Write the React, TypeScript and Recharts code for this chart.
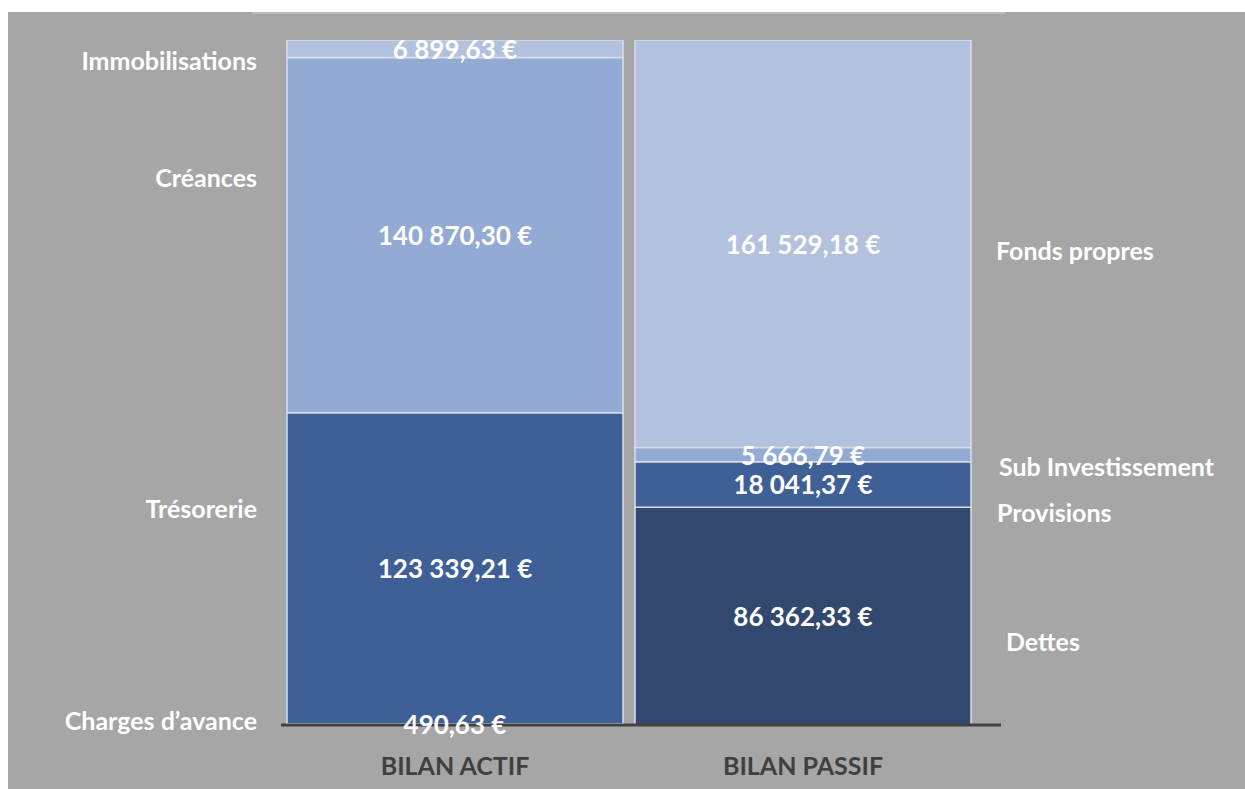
import React from 'react';
import { BarChart, Bar, XAxis, YAxis, LabelList } from 'recharts';

const categories = ['BILAN ACTIF', 'BILAN PASSIF'];
const actifNames = ['Charges d’avance', 'Trésorerie', 'Créances', 'Immobilisations'];
const actifValues = [490.63, 123339.21, 140870.3, 6899.63];
const passifNames = ['Dettes', 'Provisions', 'Sub Investissement', 'Fonds propres'];
const passifValues = [86362.33, 18041.37, 5666.79, 161529.18];
const yMax = 271600;

// styles / placement (not data)
const actifColors = ['#3f6097', '#3f6097', '#93aad5', '#b2c1de'];
const passifColors = ['#33486e', '#3f6097', '#93aad5', '#b2c1de'];
const actifNameDy = [-4, -60, -58, 11];
const passifNameDy = [25, 28, 11, 6];
const passifNameDx = [35, 26, 28, 25];

const FONT = 'Lato, "Open Sans", sans-serif';

function formatEuro(v: number): string {
  const fixed = v.toFixed(2);
  const [int, dec] = fixed.split('.');
  const grouped = int.replace(/\B(?=(\d{3})+(?!\d))/g, ' ');
  return `${grouped},${dec} €`;
}

type Series = { key: string; name: string; color: string; side: 'actif' | 'passif'; dx: number; dy: number };

const series: Series[] = [
  ...actifNames.map((n, i) => ({ key: `a${i}`, name: n, color: actifColors[i], side: 'actif' as const, dx: -30, dy: actifNameDy[i] })),
  ...passifNames.map((n, i) => ({ key: `p${i}`, name: n, color: passifColors[i], side: 'passif' as const, dx: passifNameDx[i], dy: passifNameDy[i] })),
];

const data = categories.map((cat, ci) => {
  const row: Record<string, any> = { cat };
  actifValues.forEach((v, i) => (row[`a${i}`] = ci === 0 ? v : null));
  passifValues.forEach((v, i) => (row[`p${i}`] = ci === 1 ? v : null));
  return row;
});

function geom(props: any) {
  const vb = props.viewBox || {};
  const x = props.x ?? vb.x;
  const y = props.y ?? vb.y;
  const width = props.width ?? vb.width;
  const height = props.height ?? vb.height;
  return { x: Number(x), y: Number(y), width: Number(width), height: Number(height) };
}

const makeValueLabel = () => (props: any) => {
  if (props.value == null) return null;
  const { x, y, width, height } = geom(props);
  return (
    <text
      x={x + width / 2}
      y={y + height / 2}
      textAnchor="middle"
      dominantBaseline="central"
      fill="#ffffff"
      fontFamily={FONT}
      fontWeight={700}
      fontSize={26}
    >
      {formatEuro(Number(props.value))}
    </text>
  );
};

const makeNameLabel = (s: Series) => (props: any) => {
  if (props.value == null) return null;
  const { x, y, width, height } = geom(props);
  const cy = y + height / 2 + s.dy;
  const tx = s.side === 'actif' ? x + s.dx : x + width + s.dx;
  return (
    <text
      x={tx}
      y={cy}
      textAnchor={s.side === 'actif' ? 'end' : 'start'}
      dominantBaseline="central"
      fill="#ffffff"
      fontFamily={FONT}
      fontWeight={700}
      fontSize={25}
    >
      {s.name}
    </text>
  );
};

export default function App() {
  return (
    <div>
      <style>{`html,body{overflow:hidden}`}</style>
      <div
        style={{
          position: 'absolute',
          left: 8,
          top: 12,
          width: 1237,
          height: 777,
          background: '#a6a6a6',
          overflow: 'hidden',
        }}
      >
        <div style={{ position: 'absolute', left: 244, top: 0, width: 753, height: 2, background: '#bcbcbc' }} />
        <BarChart
          width={1237}
          height={777}
          data={data}
          margin={{ top: 28, right: 244, bottom: 14, left: 273 }}
        >
          <XAxis
            dataKey="cat"
            axisLine={{ stroke: '#404040', strokeWidth: 3 }}
            tickLine={false}
            height={50}
            padding={{ left: 0, right: 24 }}
            tickMargin={26}
            tick={{ fill: '#404040', fontFamily: FONT, fontWeight: 700, fontSize: 25 }}
          />
          <YAxis hide domain={[0, yMax]} allowDataOverflow />
          {series.map((s) => (
            <Bar
              key={s.key}
              dataKey={s.key}
              stackId="s"
              fill={s.color}
              stroke="#d7deea"
              strokeWidth={1.5}
              barSize={336}
              isAnimationActive={false}
            >
              <LabelList dataKey={s.key} content={makeValueLabel()} />
              <LabelList dataKey={s.key} content={makeNameLabel(s)} />
            </Bar>
          ))}
        </BarChart>
      </div>
    </div>
  );
}
